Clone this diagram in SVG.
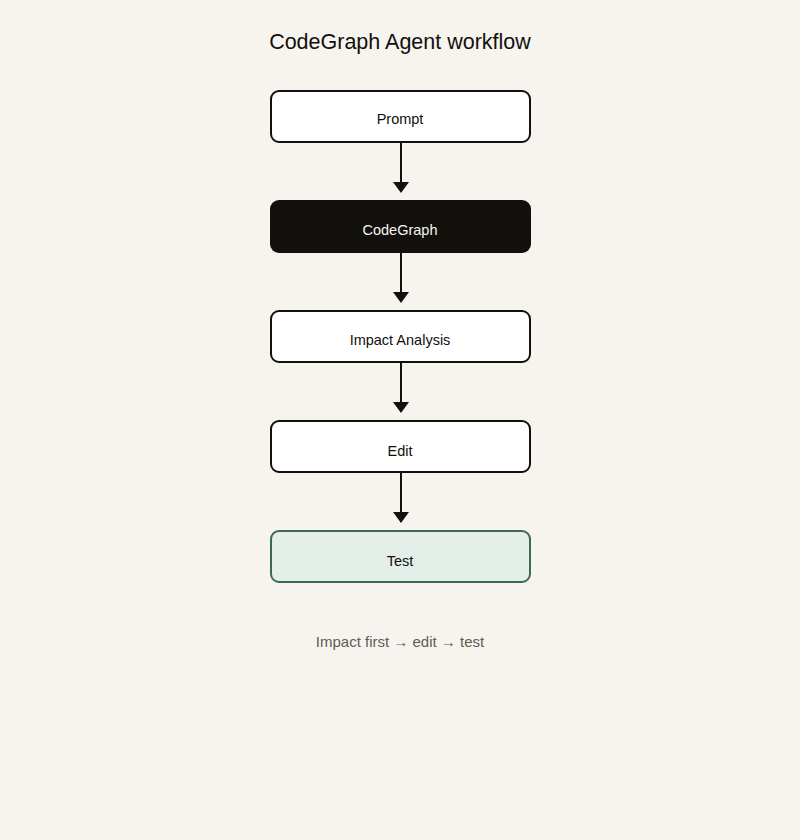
<svg xmlns="http://www.w3.org/2000/svg" width="800" height="840" viewBox="0 0 800 840">
<style>
text{font-family:"Liberation Sans",Arial,sans-serif;text-anchor:middle}
.n{fill:#fff;stroke:#11100c;stroke-width:2}
.l{font-size:14.5px;fill:#11100c}
.c{stroke:#11100c;stroke-width:2;fill:none}
.h{fill:#11100c}
</style>
<rect width="800" height="840" fill="#f7f4ef"/>
<text x="400" y="49" font-size="21.5" fill="#11100c">CodeGraph Agent workflow</text>
<g id="connectors">
<path class="c" d="M401,143V183"/><path class="h" d="M393,182H409L401,193Z"/>
<path class="c" d="M401,253V293"/><path class="h" d="M393,292H409L401,303Z"/>
<path class="c" d="M401,363V403"/><path class="h" d="M393,402H409L401,413Z"/>
<path class="c" d="M401,473V513"/><path class="h" d="M393,512H409L401,523Z"/>
</g>
<g id="prompt"><rect class="n" x="271" y="91" width="259" height="51" rx="8"/><text class="l" x="400" y="124">Prompt</text></g>
<g id="codegraph"><rect x="270" y="200" width="261" height="53" rx="9" fill="#11100c"/><text class="l" x="400" y="235" style="fill:#f7f4ef">CodeGraph</text></g>
<g id="impact"><rect class="n" x="271" y="311" width="259" height="51" rx="8"/><text class="l" x="400" y="345">Impact Analysis</text></g>
<g id="edit"><rect class="n" x="271" y="421" width="259" height="51" rx="8"/><text class="l" x="400" y="456">Edit</text></g>
<g id="test"><rect x="271" y="531" width="259" height="51" rx="8" fill="#e5efe9" stroke="#3d6b52" stroke-width="2"/><text class="l" x="400" y="566">Test</text></g>
<text x="400" y="647" font-size="15" fill="#5f5b55">Impact first → edit → test</text>
</svg>
